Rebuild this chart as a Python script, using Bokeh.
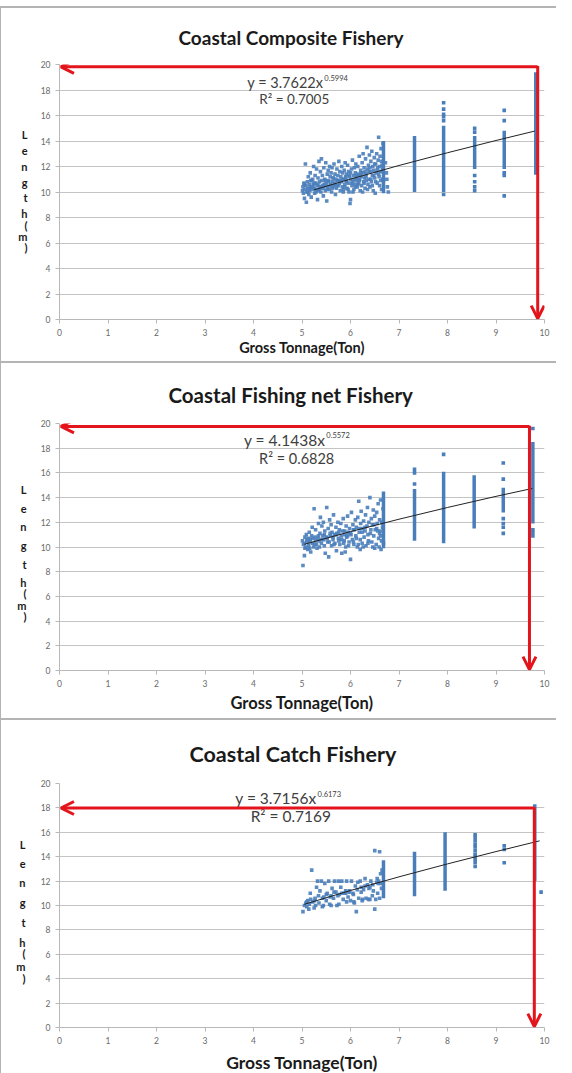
import math
from bokeh.plotting import figure
from bokeh.layouts import column
from bokeh.models import Range1d, FixedTicker, Label, Arrow, OpenHead, LinearAxis
from bokeh.embed import file_html
from bokeh.resources import INLINE

# ---------------- data ----------------
titles = ["Coastal Composite Fishery", "Coastal Fishing net Fishery", "Coastal Catch Fishery"]
eq_main = ["y = 3.7622x", "y = 4.1438x", "y = 3.7156x"]
eq_sup = ["0.5994", "0.5572", "0.6173"]
r2_text = ["R\u00b2 = 0.7005", "R\u00b2 = 0.6828", "R\u00b2 = 0.7169"]
x_ticks = [0, 1, 2, 3, 4, 5, 6, 7, 8, 9, 10]
y_ticks = [0, 2, 4, 6, 8, 10, 12, 14, 16, 18, 20]
ylabel_chars = ["L", "e", "n", "g", "t", "h", "(", "m", ")"]

# panel 1 : scattered vessels 5 - 6.7 ton
p1_cloud_x = [
    5.01, 5.02, 5.03, 5.04, 5.05, 5.06, 5.07, 5.08, 5.09, 5.10,
    5.11, 5.12, 5.13, 5.14, 5.15, 5.16, 5.17, 5.18, 5.19, 5.20,
    5.21, 5.22, 5.23, 5.24, 5.25, 5.26, 5.27, 5.28, 5.29, 5.30,
    5.31, 5.32, 5.33, 5.34, 5.35, 5.36, 5.37, 5.38, 5.39, 5.40,
    5.41, 5.42, 5.43, 5.44, 5.45, 5.46, 5.47, 5.48, 5.49, 5.50,
    5.51, 5.52, 5.53, 5.54, 5.55, 5.56, 5.57, 5.58, 5.59, 5.60,
    5.61, 5.62, 5.63, 5.64, 5.65, 5.66, 5.67, 5.68, 5.69, 5.70,
    5.71, 5.72, 5.73, 5.74, 5.75, 5.76, 5.77, 5.78, 5.79, 5.80,
    5.81, 5.82, 5.83, 5.84, 5.85, 5.86, 5.87, 5.88, 5.89, 5.90,
    5.91, 5.92, 5.93, 5.94, 5.95, 5.96, 5.97, 5.98, 5.99, 6.00,
    6.01, 6.02, 6.03, 6.04, 6.05, 6.06, 6.07, 6.08, 6.09, 6.10,
    6.11, 6.12, 6.13, 6.14, 6.15, 6.16, 6.17, 6.18, 6.19, 6.20,
    6.21, 6.22, 6.23, 6.24, 6.25, 6.26, 6.27, 6.28, 6.29, 6.30,
    6.31, 6.32, 6.33, 6.34, 6.35, 6.36, 6.37, 6.38, 6.39, 6.40,
    6.41, 6.42, 6.43, 6.44, 6.45, 6.46, 6.47, 6.48, 6.49, 6.50,
    6.51, 6.52, 6.53, 6.54, 6.55, 6.56, 6.57, 6.58, 6.59, 6.60,
    6.61, 6.62, 6.63, 6.64, 6.65, 6.66, 6.67, 6.68, 6.75, 6.76,
    5.05, 5.12, 5.18, 5.22, 5.28, 5.33, 5.38, 5.42, 5.48, 5.52,
    5.58, 5.62, 5.68, 5.72, 5.78, 5.83, 5.88, 5.92, 5.97, 6.02,
    6.08, 6.12, 6.18, 6.22, 6.28, 6.32, 6.38, 6.42, 6.48, 6.52,
    6.58, 6.62, 6.66, 6.45, 6.35, 6.25, 6.15, 6.05, 5.95, 5.85,
    6.78, 6.74, 6.72, 5.15, 5.25, 5.35, 5.45, 5.55, 5.65, 5.75,
    6.55, 6.60, 6.64, 6.50, 6.40, 6.30, 6.20, 6.10, 6.00, 5.90,
]
p1_cloud_y = [
    10.1, 10.4, 9.9, 10.7, 9.5, 10.2, 12.2, 10.5, 9.2, 10.0,
    10.8, 10.3, 11.2, 9.8, 10.6, 10.1, 11.5, 10.4, 9.6, 10.9,
    10.2, 11.0, 10.6, 12.0, 10.3, 9.9, 11.3, 10.7, 10.0, 11.8,
    10.5, 9.4, 11.1, 10.2, 12.4, 10.8, 10.4, 11.6, 10.0, 12.6,
    10.9, 11.3, 10.3, 9.7, 11.9, 10.6, 11.0, 10.1, 12.3, 10.7,
    9.3, 11.4, 10.4, 11.7, 10.9, 10.2, 12.0, 11.2, 10.6, 11.5,
    10.0, 11.9, 10.8, 11.1, 10.4, 12.2, 10.6, 11.4, 9.8, 11.0,
    10.3, 11.8, 10.9, 11.3, 10.5, 12.4, 10.7, 11.6, 10.1, 11.2,
    10.8, 12.0, 10.4, 11.5, 11.0, 10.2, 11.7, 10.6, 12.3, 11.1,
    10.9, 11.4, 10.3, 12.1, 10.7, 11.6, 10.0, 11.2, 9.1, 9.4,
    11.0, 11.8, 10.5, 12.5, 10.8, 11.3, 10.2, 11.9, 10.6, 11.5,
    12.2, 10.9, 11.1, 10.4, 12.0, 11.4, 10.7, 12.8, 11.0, 10.1,
    11.7, 11.2, 10.5, 12.3, 11.5, 13.0, 10.8, 11.9, 11.1, 10.3,
    12.6, 11.4, 10.9, 13.5, 11.8, 10.6, 12.1, 11.0, 12.9, 10.4,
    11.6, 12.4, 10.8, 13.2, 11.3, 12.0, 10.1, 11.7, 12.7, 11.1,
    9.9, 12.2, 11.5, 13.0, 10.7, 11.9, 12.5, 14.3, 11.2, 10.5,
    12.8, 11.6, 13.4, 10.2, 12.1, 11.0, 13.8, 10.9, 11.0, 10.4,
    10.6, 10.0, 10.9, 10.4, 10.2, 10.6, 10.3, 10.5, 10.9, 10.2,
    10.5, 10.3, 10.7, 10.5, 10.9, 11.0, 10.4, 10.8, 11.3, 10.7,
    11.0, 11.3, 10.9, 11.5, 10.7, 11.2, 11.6, 11.0, 11.3, 10.8,
    11.4, 10.9, 11.8, 10.5, 10.2, 10.0, 10.6, 10.0, 10.2, 10.0,
    10.0, 11.5, 12.3, 10.3, 10.7, 10.1, 10.4, 10.8, 11.1, 10.9,
    11.7, 12.0, 12.4, 12.2, 11.9, 11.6, 11.3, 10.4, 11.5, 11.2,
]
p1_col_x = [6.68, 7.32, 7.92, 8.56, 9.17, 9.82]
p1_col_lo = [9.9, 10.0, 10.0, 11.8, 11.8, 11.6]
p1_col_hi = [14.0, 14.4, 15.2, 14.4, 14.8, 19.4]
p1_pts_x = [7.92, 7.92, 7.92, 7.92, 7.92, 7.92, 8.56, 8.56, 8.56, 8.56, 8.56, 8.56, 9.17, 9.17, 9.17, 9.17, 9.17, 9.82]
p1_pts_y = [9.8, 15.6, 15.9, 16.1, 16.5, 17.0, 15.0, 14.7, 11.3, 10.8, 10.4, 10.1, 16.4, 15.6, 11.5, 11.3, 9.7, 11.5]
p1_trend_x = [5.25, 6.0, 7.0, 8.0, 9.0, 9.8]
p1_trend_y = [10.17, 11.01, 12.08, 13.08, 14.04, 14.78]

# panel 2
p2_cloud_x = [
    5.01, 5.02, 5.03, 5.05, 5.06, 5.08, 5.09, 5.10, 5.12, 5.13,
    5.14, 5.15, 5.17, 5.18, 5.20, 5.21, 5.22, 5.24, 5.25, 5.27,
    5.28, 5.30, 5.31, 5.33, 5.34, 5.35, 5.37, 5.38, 5.40, 5.41,
    5.43, 5.44, 5.45, 5.47, 5.48, 5.50, 5.51, 5.53, 5.54, 5.55,
    5.57, 5.58, 5.60, 5.61, 5.62, 5.64, 5.65, 5.67, 5.68, 5.70,
    5.71, 5.72, 5.74, 5.75, 5.77, 5.78, 5.80, 5.81, 5.82, 5.84,
    5.85, 5.87, 5.88, 5.89, 5.91, 5.92, 5.94, 5.95, 5.97, 5.98,
    6.00, 6.01, 6.02, 6.04, 6.05, 6.07, 6.08, 6.10, 6.11, 6.12,
    6.14, 6.15, 6.17, 6.18, 6.20, 6.21, 6.22, 6.24, 6.25, 6.27,
    6.28, 6.30, 6.31, 6.32, 6.34, 6.35, 6.37, 6.38, 6.40, 6.41,
    6.43, 6.44, 6.45, 6.47, 6.48, 6.50, 6.51, 6.53, 6.54, 6.55,
    6.57, 6.58, 6.60, 6.61, 6.62, 6.64, 6.65, 6.66, 6.67, 6.68,
    5.05, 5.10, 5.16, 5.22, 5.28, 5.34, 5.40, 5.46, 5.52, 5.58,
    5.64, 5.70, 5.76, 5.82, 5.88, 5.94, 6.00, 6.06, 6.12, 6.18,
    6.24, 6.30, 6.36, 6.42, 6.48, 6.54, 6.60, 6.66, 6.62, 6.56,
    6.46, 6.36, 6.26, 6.16, 6.06, 5.96, 5.86, 5.76, 5.66, 5.56,
    5.46, 5.36, 5.26, 5.16, 5.06, 5.90, 6.20, 6.50, 6.63, 6.59,
]
p2_cloud_y = [
    10.5, 8.5, 10.2, 9.3, 10.8, 10.0, 11.0, 10.4, 9.8, 10.7,
    10.1, 11.2, 10.6, 9.6, 10.9, 11.6, 10.3, 10.0, 13.1, 10.8,
    11.4, 10.2, 9.9, 10.7, 11.9, 10.5, 11.1, 12.4, 10.3, 11.7,
    10.9, 12.0, 10.6, 11.3, 9.5, 10.8, 13.2, 10.4, 11.5, 9.2,
    12.2, 10.9, 11.8, 10.1, 11.2, 10.6, 12.6, 11.0, 10.3, 11.6,
    9.7, 11.1, 12.0, 10.7, 11.4, 10.2, 11.9, 10.9, 9.5, 11.3,
    12.3, 10.5, 11.0, 9.6, 11.7, 10.8, 12.5, 11.2, 10.4, 11.5,
    9.0, 11.0, 12.8, 10.6, 11.8, 10.2, 11.4, 12.2, 10.9, 11.6,
    10.0, 12.4, 13.7, 11.2, 10.6, 11.9, 12.9, 10.3, 11.5, 12.1,
    10.8, 11.3, 12.6, 10.1, 11.7, 13.2, 10.5, 12.0, 14.0, 11.1,
    12.3, 10.4, 11.8, 13.0, 10.9, 12.5, 11.4, 10.2, 12.8, 11.9,
    13.5, 10.7, 12.2, 11.3, 13.8, 10.5, 12.0, 11.6, 13.1, 10.3,
    10.3, 10.6, 10.4, 10.7, 10.5, 10.9, 10.6, 11.0, 10.7, 11.1,
    10.8, 11.0, 11.2, 10.6, 11.3, 10.9, 11.1, 11.4, 10.7, 11.5,
    11.2, 11.6, 11.0, 11.4, 11.8, 11.5, 11.1, 11.9, 10.9, 11.3,
    10.0, 10.3, 10.0, 10.2, 10.4, 10.1, 10.3, 10.5, 10.2, 10.4,
    10.1, 10.0, 10.2, 9.9, 9.9, 10.0, 9.8, 9.9, 9.8, 10.0,
]
p2_col_x = [6.68, 7.32, 7.92, 8.55, 9.15, 9.76]
p2_col_lo = [9.9, 10.5, 10.3, 11.5, 12.8, 11.9]
p2_col_hi = [14.5, 14.7, 16.1, 15.8, 14.8, 18.5]
p2_pts_x = [7.32, 7.32, 7.32, 7.92, 9.15, 9.15, 9.15, 9.15, 9.15, 9.15, 9.76, 9.76, 9.76, 9.76]
p2_pts_y = [15.1, 16.0, 16.3, 17.5, 16.8, 15.5, 12.3, 11.9, 11.6, 11.1, 19.6, 11.4, 11.2, 10.9]
p2_trend_x = [5.05, 6.0, 7.0, 8.0, 9.0, 9.75]
p2_trend_y = [10.22, 11.25, 12.25, 13.20, 14.10, 14.74]

# panel 3
p3_cloud_x = [
    5.02, 5.05, 5.08, 5.10, 5.12, 5.15, 5.17, 5.20, 5.22, 5.25,
    5.27, 5.30, 5.32, 5.35, 5.37, 5.40, 5.42, 5.45, 5.47, 5.50,
    5.52, 5.55, 5.57, 5.60, 5.62, 5.65, 5.67, 5.70, 5.72, 5.75,
    5.77, 5.80, 5.82, 5.85, 5.87, 5.90, 5.92, 5.95, 5.97, 6.00,
    6.02, 6.05, 6.07, 6.10, 6.12, 6.15, 6.17, 6.20, 6.22, 6.25,
    6.27, 6.30, 6.32, 6.35, 6.37, 6.40, 6.42, 6.45, 6.47, 6.50,
    6.52, 6.55, 6.57, 6.60, 6.62, 6.64, 6.65, 6.50, 6.60, 6.58,
    5.10, 5.18, 5.26, 5.34, 5.42, 5.50, 5.58, 5.66, 5.74, 5.82,
    5.90, 5.98, 6.06, 6.14, 6.22, 6.30, 6.38, 6.46, 6.54, 6.62,
    5.14, 5.28, 5.44, 5.60, 5.76, 5.92, 6.08, 6.24, 6.40, 6.56,
]
p3_cloud_y = [
    9.5, 10.0, 10.2, 9.9, 10.4, 10.1, 11.0, 12.9, 10.3, 9.8,
    10.6, 11.5, 12.0, 10.2, 11.2, 12.0, 9.9, 10.7, 11.8, 10.4,
    11.0, 12.0, 10.1, 10.8, 11.4, 10.6, 12.0, 11.1, 10.0, 12.0,
    10.9, 11.5, 12.0, 10.5, 11.0, 11.2, 12.0, 10.7, 11.1, 10.4,
    12.0, 11.0, 10.3, 11.6, 9.5, 11.9, 10.6, 12.0, 11.1, 10.5,
    11.3, 12.2, 10.6, 11.7, 10.5, 11.5, 12.0, 10.8, 11.2, 9.7,
    10.5, 12.2, 11.8, 10.6, 12.6, 11.4, 12.9, 14.5, 14.4, 12.0,
    10.3, 10.5, 10.4, 10.8, 10.6, 10.9, 10.7, 11.1, 10.8, 11.0,
    11.0, 11.2, 10.9, 11.3, 11.5, 11.6, 11.4, 11.7, 11.9, 11.8,
    9.7, 10.0, 10.0, 10.0, 10.1, 10.3, 10.2, 10.4, 10.5, 11.0,
]
p3_col_x = [6.68, 7.32, 7.95, 9.80]
p3_col_lo = [10.6, 10.75, 11.2, 12.0]
p3_col_hi = [13.7, 14.4, 16.0, 18.3]
p3_pts_x = [8.57, 8.57, 8.57, 8.57, 8.57, 8.57, 8.57, 8.57, 8.57, 8.57, 8.57, 9.17, 9.17, 9.17, 9.93]
p3_pts_y = [13.2, 13.5, 13.8, 14.0, 14.2, 14.5, 14.8, 15.0, 15.3, 15.6, 15.8, 14.9, 14.6, 13.5, 11.1]
p3_trend_x = [5.05, 6.0, 7.0, 8.0, 9.0, 9.9]
p3_trend_y = [10.10, 11.23, 12.35, 13.41, 14.42, 15.30]

# red guide arrows (corner and tips, data units)
arrow_cx = [9.86, 9.69, 9.79]
arrow_cy = [19.82, 19.76, 17.99]
arrow_left = [0.03, 0.03, 0.03]
arrow_bottom = [0.07, 0.07, 0.07]

# ---------------- layout / style ----------------
FONT = "Lato"
BLUE = "#4a7ebb"
RED = "#e3141b"
heights = [355, 357, 355]
borders = [  # left, right, top, bottom
    (58, 13, 53, 44),
    (58, 13, 59, 50),
    (58, 13, 63, 44),
]
panel_styles = [
    {"margin-top": "6px", "border-top": "2px solid #b4b4b4", "border-left": "1px solid #b4b4b4"},
    {"border-top": "2px solid #b4b4b4", "border-left": "1px solid #b4b4b4"},
    {"border-top": "2px solid #b4b4b4", "border-left": "1px solid #b4b4b4"},
]
title_sizes = ["19px", "20.5px", "21.5px"]
title_standoff = [31, 34, 33]
title_offset = [119, 109, 130]
axis_title_sizes = ["14.5px", "16.5px", "17.5px"]
axis_title_standoff = [0, 3, 5]
eq_main_sizes = ["14.5px", "15.5px", "15.5px"]
eq_r2_sizes = ["13.5px", "14.5px", "15.5px"]
eq_pos = [  # x_end_main, y_main, y_sup, x_r2_center, y_r2
    (5.44, 18.55, 18.95, 4.84, 17.3),
    (5.48, 18.64, 19.06, 4.89, 17.2),
    (5.30, 18.8, 19.13, 4.77, 17.35),
]
ylab_standoff = [10, 11, 12]
ylab_y = [
    [14.53, 13.28, 12.03, 10.78, 9.53, 8.28, 7.34, 6.48, 5.62],
    [14.63, 13.09, 11.63, 10.16, 8.62, 7.15, 6.20, 5.28, 4.40],
    [14.96, 13.41, 11.87, 10.24, 8.62, 6.99, 6.05, 5.04, 4.05],
]

clouds = [(p1_cloud_x, p1_cloud_y), (p2_cloud_x, p2_cloud_y), (p3_cloud_x, p3_cloud_y)]
cols = [(p1_col_x, p1_col_lo, p1_col_hi), (p2_col_x, p2_col_lo, p2_col_hi), (p3_col_x, p3_col_lo, p3_col_hi)]
pts = [(p1_pts_x, p1_pts_y), (p2_pts_x, p2_pts_y), (p3_pts_x, p3_pts_y)]
trends = [(p1_trend_x, p1_trend_y), (p2_trend_x, p2_trend_y), (p3_trend_x, p3_trend_y)]


def make_panel(i):
    bl, br, bt, bb = borders[i]
    p = figure(width=556, height=heights[i], x_range=Range1d(0, 10), y_range=Range1d(0, 20),
               output_backend="svg", toolbar_location=None,
               min_border_left=bl, min_border_right=br, min_border_top=bt, min_border_bottom=bb,
               styles=panel_styles[i])
    p.outline_line_color = None
    p.title.text = titles[i]
    p.title.align = "left"
    p.title.offset = title_offset[i]
    p.title.text_font = FONT
    p.title.text_font_style = "bold"
    p.title.text_font_size = title_sizes[i]
    p.title.text_color = "#1a1a1a"
    p.title.standoff = title_standoff[i]

    p.xgrid.grid_line_color = None
    p.ygrid.grid_line_color = "#c4c4c4"
    p.ygrid.grid_line_width = 1
    p.xaxis.ticker = FixedTicker(ticks=x_ticks)
    p.yaxis.ticker = FixedTicker(ticks=y_ticks)
    for ax in (p.xaxis[0], p.yaxis[0]):
        ax.axis_line_color = "#b8b8b8"
        ax.major_tick_line_color = "#b8b8b8"
        ax.major_tick_out = 4
        ax.major_tick_in = 0
        ax.minor_tick_line_color = None
        ax.major_label_text_font = FONT
        ax.major_label_text_font_size = "8.5px"
        ax.major_label_text_color = "#6a6a6a"
    p.xaxis.axis_label = "Gross Tonnage(Ton)"
    p.xaxis.axis_label_text_font = FONT
    p.xaxis.axis_label_text_font_style = "bold"
    p.xaxis.axis_label_text_font_size = axis_title_sizes[i]
    p.xaxis.axis_label_text_color = "#1a1a1a"
    p.xaxis.axis_label_standoff = axis_title_standoff[i]

    # stacked vertical axis title: a second, line-less left axis whose labels are the letters
    lax = LinearAxis(ticker=FixedTicker(ticks=ylab_y[i]),
                     major_label_overrides={v: ch for v, ch in zip(ylab_y[i], ylabel_chars)},
                     axis_line_color=None, major_tick_line_color=None, minor_tick_line_color=None,
                     major_tick_out=0, major_tick_in=0,
                     major_label_standoff=ylab_standoff[i],
                     major_label_text_font=FONT, major_label_text_font_style="bold",
                     major_label_text_font_size="11px", major_label_text_color="#1a1a1a")
    p.add_layout(lax, "left")

    cx, cy = clouds[i]
    p.scatter(cx, cy, size=3.6, marker="square", fill_color=BLUE, line_color=None, fill_alpha=0.9)
    colx, lo, hi = cols[i]
    p.segment(x0=colx, y0=lo, x1=colx, y1=hi, line_color=BLUE, line_width=3.5)
    px, py = pts[i]
    p.scatter(px, py, size=3.6, marker="square", fill_color=BLUE, line_color=None)
    tx, ty = trends[i]
    p.line(tx, ty, line_color="#222222", line_width=1)

    xe, ym, ys, xr, yr = eq_pos[i]
    p.add_layout(Label(x=xe, y=ym, text=eq_main[i], text_align="right", text_baseline="middle",
                       text_font=FONT, text_font_size=eq_main_sizes[i], text_color="#404040"))
    p.add_layout(Label(x=xe, y=ys, text=eq_sup[i], text_align="left", text_baseline="middle",
                       text_font=FONT, text_font_size="7.5px", text_color="#404040", x_offset=1))
    p.add_layout(Label(x=xr, y=yr, text=r2_text[i], text_align="center", text_baseline="middle",
                       text_font=FONT, text_font_size=eq_r2_sizes[i], text_color="#404040"))

    cxa, cya = arrow_cx[i], arrow_cy[i]
    p.add_layout(Arrow(x_start=cxa, y_start=cya, x_end=arrow_left[i], y_end=cya,
                       line_color=RED, line_width=3,
                       end=OpenHead(size=13, line_color=RED, line_width=3)))
    p.add_layout(Arrow(x_start=cxa, y_start=cya + 0.06, x_end=cxa, y_end=arrow_bottom[i],
                       line_color=RED, line_width=3,
                       end=OpenHead(size=13, line_color=RED, line_width=3)))
    return p


panels = [make_panel(i) for i in range(3)]
layout = column(*panels, spacing=0)
open("out.html", "w").write(file_html(layout, INLINE))
